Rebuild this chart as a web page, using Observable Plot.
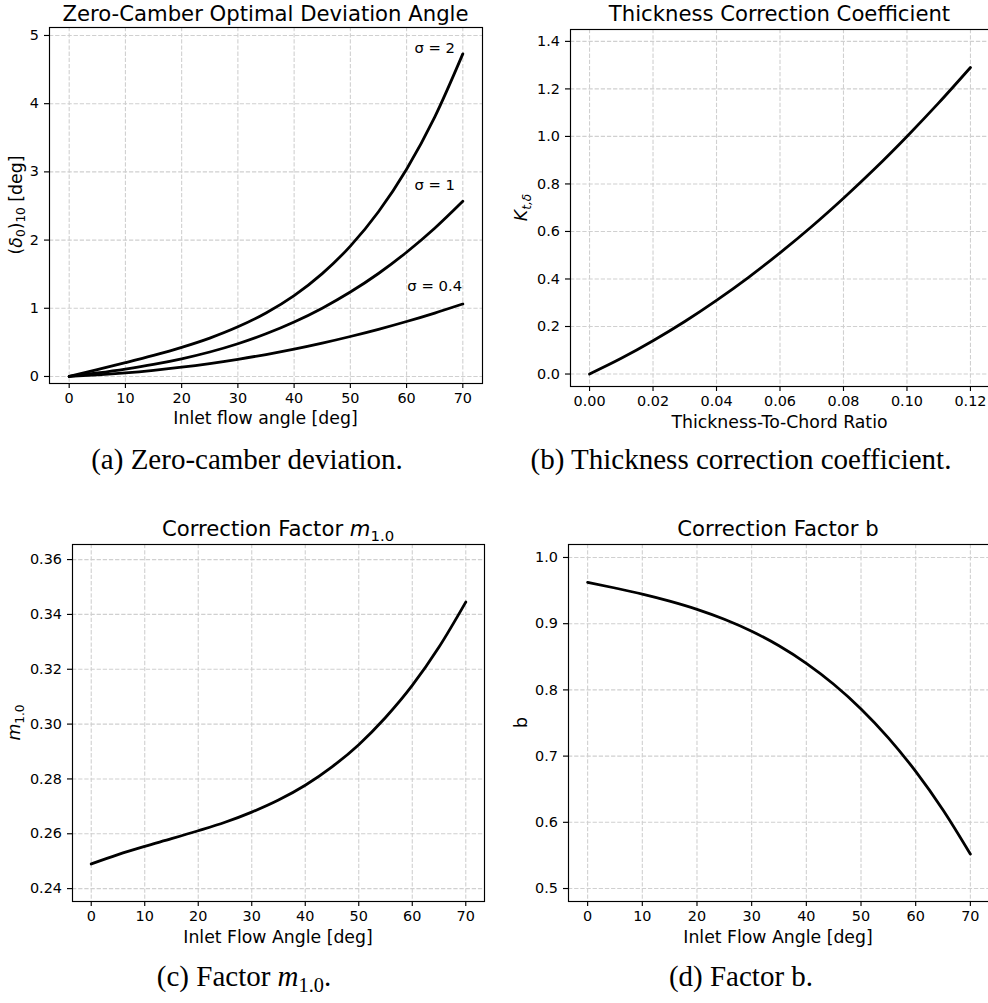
<!DOCTYPE html>
<html><head><meta charset="utf-8">
<script src="https://cdn.jsdelivr.net/npm/d3@7"></script>
<script src="https://cdn.jsdelivr.net/npm/@observablehq/plot@0.6"></script>
<style>
html,body{margin:0;padding:0;background:#fff;overflow:hidden;}
#root{position:relative;width:988px;height:1003px;overflow:hidden;background:#fff;}
#root > svg{position:absolute;}
</style></head><body><div id="root"></div>
<script>
// ---------- data ----------
const angleDeg = [0,5,10,15,20,25,30,35,40,45,50,55,60,65,70];
const devSigma2  = [0,0.100,0.202,0.309,0.427,0.563,0.728,0.931,1.186,1.508,1.912,2.415,3.039,3.803,4.730];
const devSigma1  = [0,0.051,0.109,0.177,0.259,0.359,0.480,0.626,0.799,1.002,1.238,1.510,1.822,2.174,2.569];
const devSigma04 = [0,0.023,0.053,0.091,0.136,0.190,0.252,0.322,0.401,0.489,0.586,0.691,0.806,0.930,1.063];
const sigmaLabels = ["σ = 2","σ = 1","σ = 0.4"];
const sigmaLabelX = [65,65,65];
const sigmaLabelY = [4.82,2.80,1.33];

const tcRatio = [0,0.01,0.02,0.03,0.04,0.05,0.06,0.07,0.08,0.09,0.10,0.11,0.12];
const ktd     = [0,0.066,0.140,0.221,0.310,0.406,0.510,0.621,0.740,0.866,1.000,1.141,1.290];

const m10     = [0.2490,0.2524,0.2554,0.2582,0.2611,0.2642,0.2679,0.2723,0.2777,0.2844,0.2925,0.3024,0.3141,0.3281,0.3445];
const bFactor = [0.9625,0.9539,0.9447,0.9341,0.9217,0.9067,0.8886,0.8666,0.8401,0.8085,0.7713,0.7276,0.6769,0.6186,0.5520];

const angleTicks = [0,10,20,30,40,50,60,70];
const devTicks   = [0,1,2,3,4,5];
const tcTicks    = [0,0.02,0.04,0.06,0.08,0.10,0.12];
const ktdTicks   = [0,0.2,0.4,0.6,0.8,1.0,1.2,1.4];
const m10Ticks   = [0.24,0.26,0.28,0.30,0.32,0.34,0.36];
const bTicks     = [0.5,0.6,0.7,0.8,0.9,1.0];

// ---------- helpers ----------
const root = document.getElementById("root");
const FONT = "DejaVu Sans";
const gridStyle = {stroke: "#d0d0d0", strokeOpacity: 1, strokeWidth: 1.1, strokeDasharray: "4.3,1.85"};
const lineStyle = {stroke: "black", strokeWidth: 2.8, curve: "monotone-x"};

function panel(o) {
  const chart = Plot.plot({
    width: o.width, height: o.height,
    marginTop: o.mt, marginRight: o.mr, marginBottom: o.mb, marginLeft: o.ml,
    x: {domain: o.xDomain, label: null},
    y: {domain: o.yDomain, label: null},
    style: {fontFamily: FONT, fontSize: "14.4px", color: "black", background: "transparent", overflow: "visible"},
    marks: [
      Plot.gridX(o.xTicks, gridStyle),
      Plot.gridY(o.yTicks, gridStyle),
      ...o.marks,
      Plot.frame({stroke: "black", strokeWidth: 1.15}),
      Plot.axisX(o.xTicks, {tickSize: 5, tickPadding: 4.5, tickFormat: o.xFmt, label: null, strokeWidth: 1.15}),
      Plot.axisY(o.yTicks, {tickSize: 5, tickPadding: 5.5, tickFormat: o.yFmt, label: null, strokeWidth: 1.15})
    ]
  });
  chart.style.left = o.left + "px";
  chart.style.top = o.top + "px";
  root.appendChild(chart);
}

const toRows = (xs, ys) => xs.map((x, i) => ({x, y: ys[i]}));

// (a)
panel({
  left: 0, top: 0, width: 494, height: 440, mt: 27, mr: 12, mb: 57, ml: 49,
  xDomain: [-3.5, 73.5], yDomain: [-0.103, 5.117],
  xTicks: angleTicks, yTicks: devTicks, xFmt: d => String(d), yFmt: d => String(d),
  marks: [
    Plot.line(toRows(angleDeg, devSigma2), {x: "x", y: "y", ...lineStyle}),
    Plot.line(toRows(angleDeg, devSigma1), {x: "x", y: "y", ...lineStyle}),
    Plot.line(toRows(angleDeg, devSigma04), {x: "x", y: "y", ...lineStyle}),
    Plot.text(sigmaLabels, {x: sigmaLabelX, y: sigmaLabelY, text: d => d, fontSize: 14.8, fill: "black"})
  ]
});
// (b)
panel({
  left: 494, top: 0, width: 500, height: 440, mt: 29, mr: 5, mb: 54, ml: 76,
  xDomain: [-0.006, 0.126], yDomain: [-0.0525, 1.45],
  xTicks: tcTicks, yTicks: ktdTicks, xFmt: d3.format(".2f"), yFmt: d3.format(".1f"),
  marks: [Plot.line(toRows(tcRatio, ktd), {x: "x", y: "y", ...lineStyle})]
});
// (c)
panel({
  left: 0, top: 500, width: 494, height: 460, mt: 44, mr: 10, mb: 59, ml: 72,
  xDomain: [-3.5, 73.5], yDomain: [0.2353, 0.3655],
  xTicks: angleTicks, yTicks: m10Ticks, xFmt: d => String(d), yFmt: d3.format(".2f"),
  marks: [Plot.line(toRows(angleDeg, m10), {x: "x", y: "y", ...lineStyle})]
});
// (d)
panel({
  left: 494, top: 500, width: 500, height: 460, mt: 44, mr: 5, mb: 59, ml: 74,
  xDomain: [-3.5, 73.5], yDomain: [0.4804, 1.0196],
  xTicks: angleTicks, yTicks: bTicks, xFmt: d => String(d), yFmt: d3.format(".1f"),
  marks: [Plot.line(toRows(angleDeg, bFactor), {x: "x", y: "y", ...lineStyle})]
});

// ---------- text overlay ----------
const ov = d3.select(root).append("svg")
  .attr("width", 988).attr("height", 1003)
  .style("left", "0px").style("top", "0px").style("pointer-events", "none");

// segments: [text, kind] kind: "n" normal, "i" italic, "s" subscript, "si" italic subscript
function rich(x, y, size, segs, opts = {}) {
  const t = ov.append("text")
    .attr("text-anchor", "middle")
    .attr("font-family", opts.family || FONT)
    .attr("font-size", size)
    .attr("fill", "black");
  if (opts.rotate) t.attr("transform", `translate(${x},${y}) rotate(-90)`);
  else t.attr("x", x).attr("y", y);
  let shift = 0;
  const drop = size * 0.22;
  for (const [txt, kind] of segs) {
    const sub = kind === "s" || kind === "si";
    const target = sub ? drop : 0;
    const sp = t.append("tspan").text(txt);
    if (target !== shift) { sp.attr("dy", target - shift); shift = target; }
    if (sub) sp.attr("font-size", size * 0.7);
    if (kind === "i" || kind === "si") sp.attr("font-style", "italic");
  }
  return t;
}

// titles
const TS = 21.2;
rich(265.5, 21, TS, [["Zero-Camber Optimal Deviation Angle", "n"]]);
rich(779.5, 21, TS, [["Thickness Correction Coefficient", "n"]]);
rich(278, 536, TS, [["Correction Factor ", "n"], ["m", "i"], ["1.0", "s"]]);
rich(778, 536, TS, [["Correction Factor b", "n"]]);

// x labels
const LS = 17.3;
rich(265.5, 424, LS, [["Inlet flow angle [deg]", "n"]]);
rich(779.5, 428, LS, [["Thickness-To-Chord Ratio", "n"]]);
rich(278, 943, LS, [["Inlet Flow Angle [deg]", "n"]]);
rich(778, 943, LS, [["Inlet Flow Angle [deg]", "n"]]);

// y labels
rich(21.5, 205, LS, [["(", "n"], ["δ", "i"], ["0", "s"], [")", "n"], ["10", "s"], [" [deg]", "n"]], {rotate: true});
rich(527, 207.5, LS, [["K", "i"], ["t,δ", "si"]], {rotate: true});
rich(20, 722.5, LS, [["m", "i"], ["1.0", "s"]], {rotate: true});
rich(527, 722.5, LS, [["b", "n"]], {rotate: true});

// captions
const CF = "Liberation Serif", CS = 29;
rich(247, 469, CS, [["(a) Zero-camber deviation.", "n"]], {family: CF});
rich(741, 469, CS, [["(b) Thickness correction coefficient.", "n"]], {family: CF});
rich(244, 986, CS, [["(c) Factor ", "n"], ["m", "i"], ["1.0", "s"], [".", "n"]], {family: CF});
rich(741, 986, CS, [["(d) Factor b.", "n"]], {family: CF});
</script></body></html>
